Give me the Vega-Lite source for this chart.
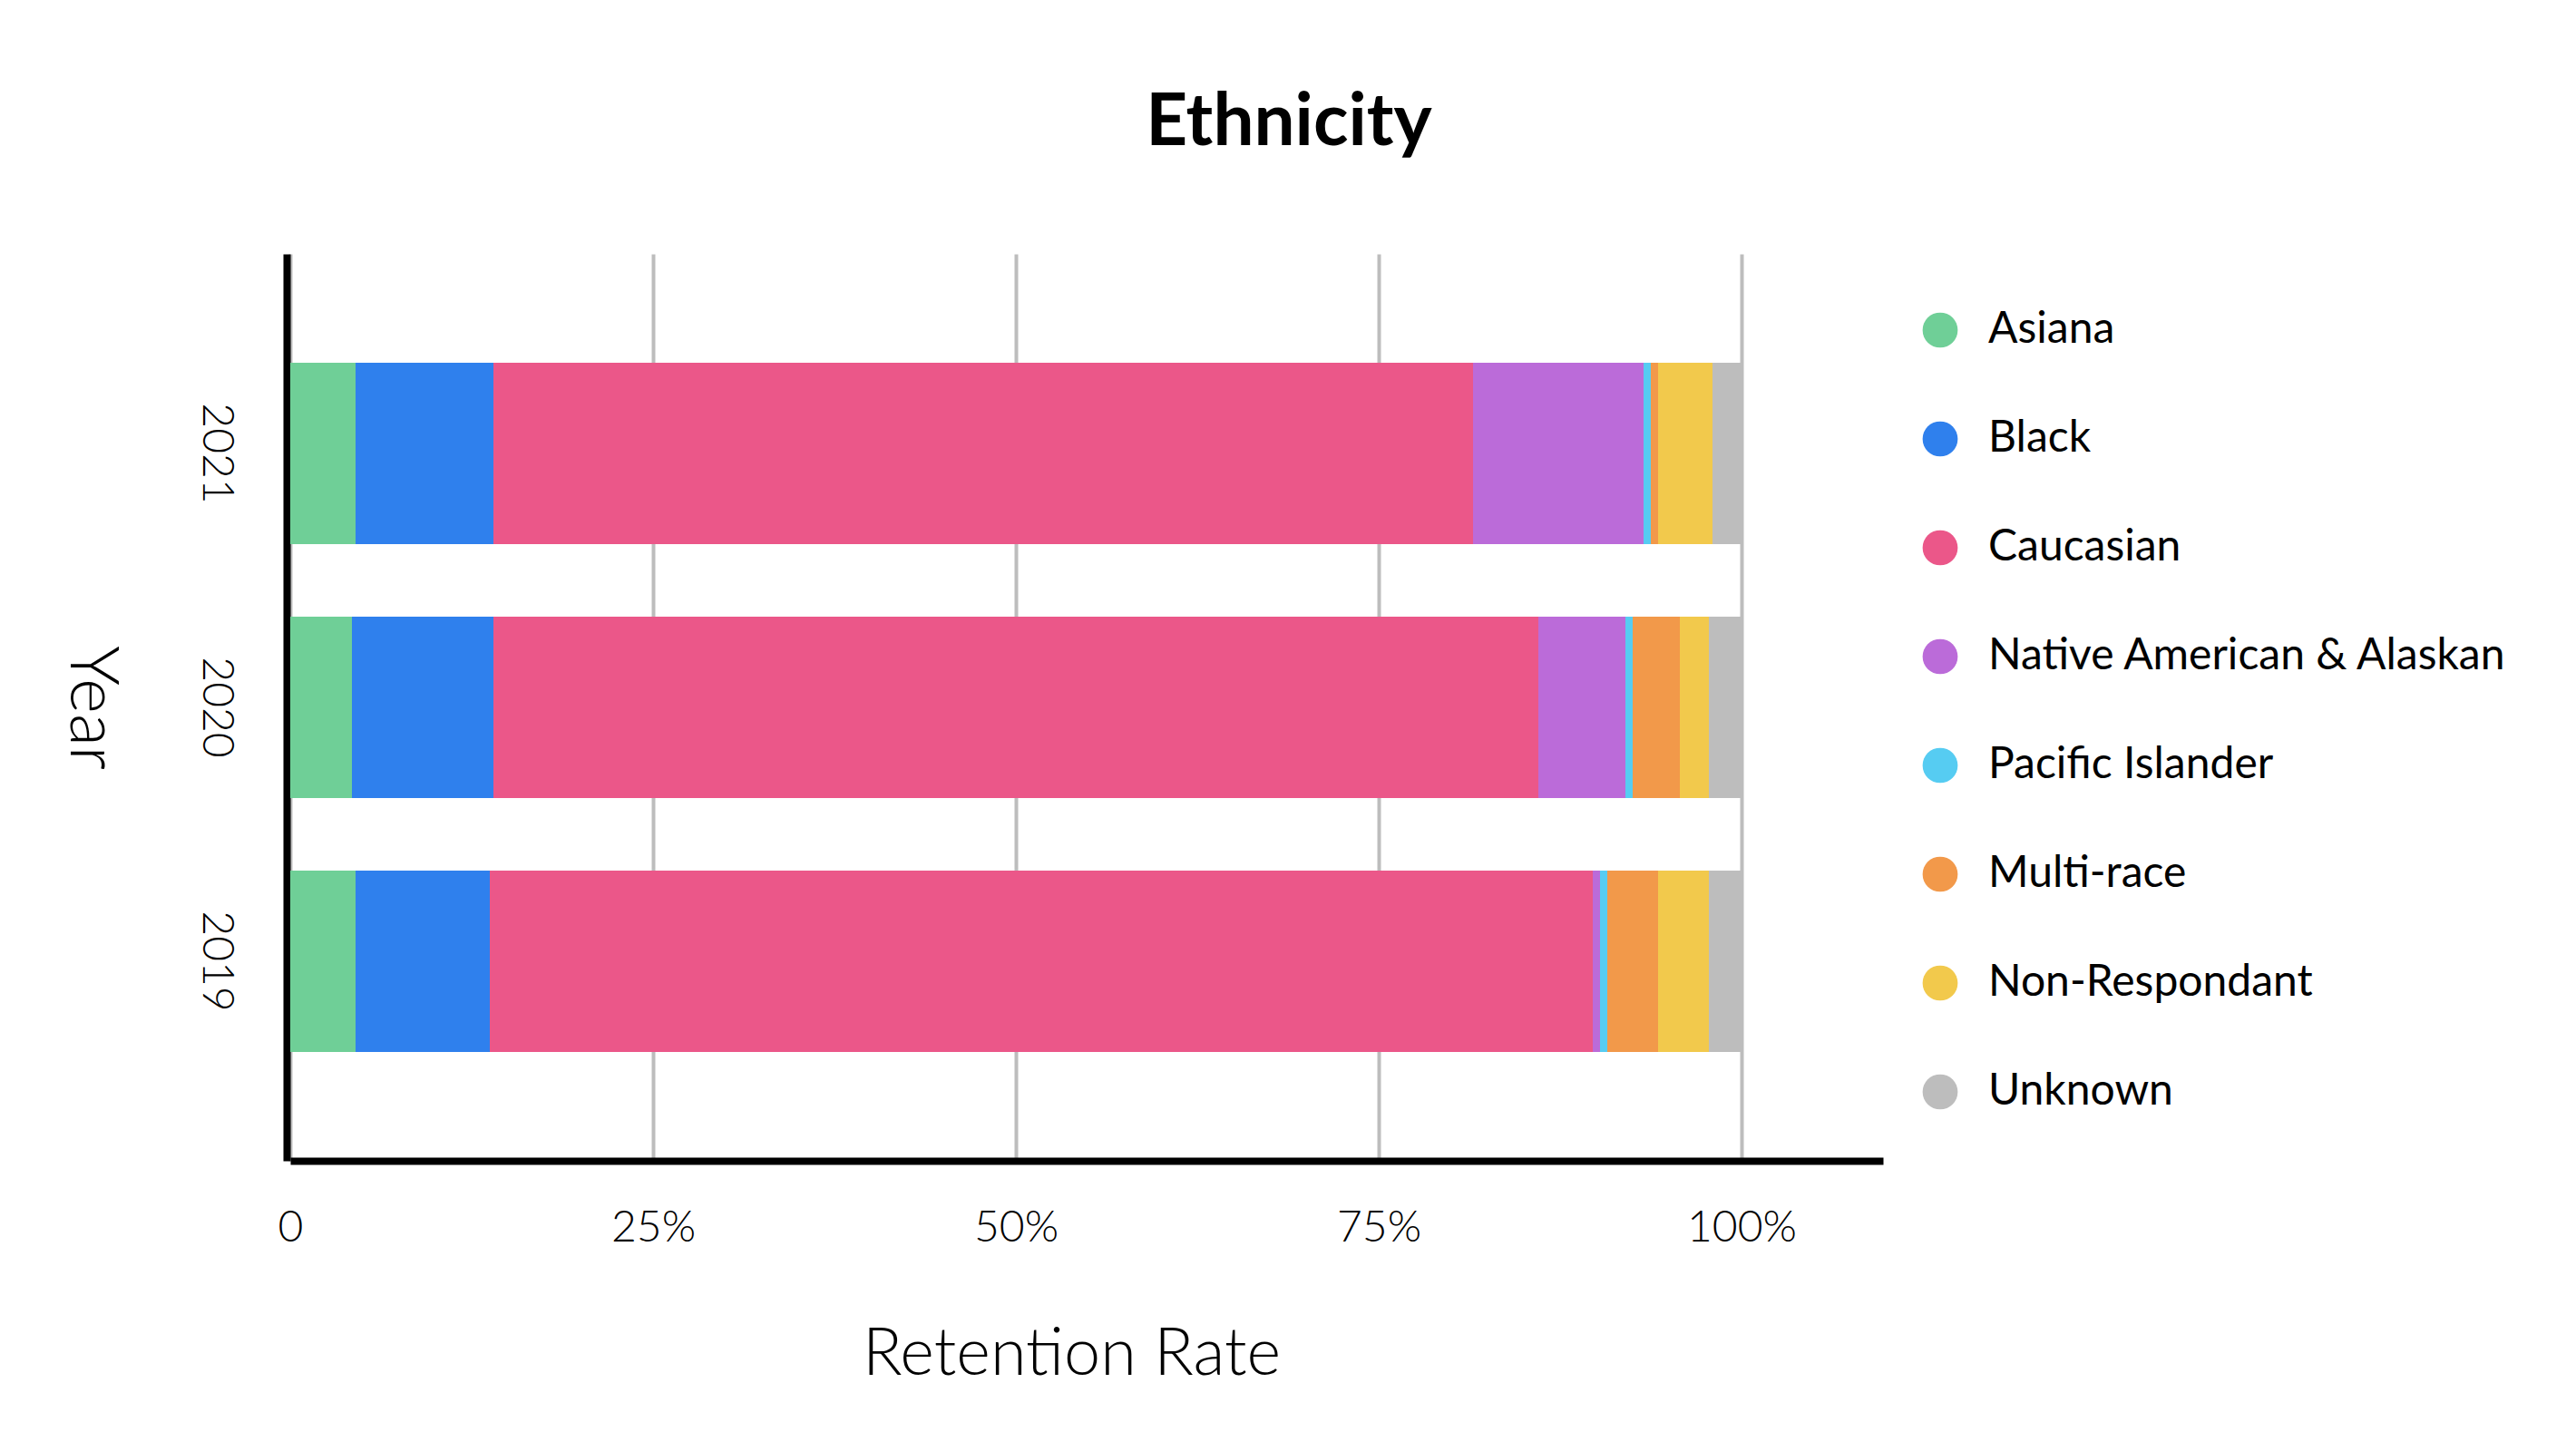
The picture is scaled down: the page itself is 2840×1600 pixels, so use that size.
{
  "$schema": "https://vega.github.io/schema/vega-lite/v6.json",
  "width": 1756,
  "height": 1000,
  "autosize": {"type": "none"},
  "padding": {"left": 320, "top": 280, "right": 764, "bottom": 320},
  "background": "white",
  "title": {
    "text": "Ethnicity",
    "font": "Lato",
    "fontSize": 80,
    "fontWeight": "bold",
    "color": "#000000",
    "anchor": "middle",
    "frame": "group",
    "dx": 223,
    "offset": 40,
    "baseline": "alphabetic"
  },
  "data": {
    "values": [
      {"year": "2021", "ethnicity": "Asiana", "rank": 1, "rate": 0.045},
      {"year": "2021", "ethnicity": "Black", "rank": 2, "rate": 0.095},
      {"year": "2021", "ethnicity": "Caucasian", "rank": 3, "rate": 0.675},
      {"year": "2021", "ethnicity": "Native American & Alaskan", "rank": 4, "rate": 0.1175},
      {"year": "2021", "ethnicity": "Pacific Islander", "rank": 5, "rate": 0.005},
      {"year": "2021", "ethnicity": "Multi-race", "rank": 6, "rate": 0.005},
      {"year": "2021", "ethnicity": "Non-Respondant", "rank": 7, "rate": 0.0375},
      {"year": "2021", "ethnicity": "Unknown", "rank": 8, "rate": 0.02},
      {"year": "2020", "ethnicity": "Asiana", "rank": 1, "rate": 0.0425},
      {"year": "2020", "ethnicity": "Black", "rank": 2, "rate": 0.0975},
      {"year": "2020", "ethnicity": "Caucasian", "rank": 3, "rate": 0.72},
      {"year": "2020", "ethnicity": "Native American & Alaskan", "rank": 4, "rate": 0.06},
      {"year": "2020", "ethnicity": "Pacific Islander", "rank": 5, "rate": 0.005},
      {"year": "2020", "ethnicity": "Multi-race", "rank": 6, "rate": 0.0325},
      {"year": "2020", "ethnicity": "Non-Respondant", "rank": 7, "rate": 0.02},
      {"year": "2020", "ethnicity": "Unknown", "rank": 8, "rate": 0.0225},
      {"year": "2019", "ethnicity": "Asiana", "rank": 1, "rate": 0.045},
      {"year": "2019", "ethnicity": "Black", "rank": 2, "rate": 0.0925},
      {"year": "2019", "ethnicity": "Caucasian", "rank": 3, "rate": 0.76},
      {"year": "2019", "ethnicity": "Native American & Alaskan", "rank": 4, "rate": 0.005},
      {"year": "2019", "ethnicity": "Pacific Islander", "rank": 5, "rate": 0.005},
      {"year": "2019", "ethnicity": "Multi-race", "rank": 6, "rate": 0.035},
      {"year": "2019", "ethnicity": "Non-Respondant", "rank": 7, "rate": 0.035},
      {"year": "2019", "ethnicity": "Unknown", "rank": 8, "rate": 0.0225}
    ]
  },
  "mark": {"type": "bar"},
  "encoding": {
    "y": {
      "field": "year",
      "type": "nominal",
      "sort": "descending",
      "scale": {"paddingInner": 0.2857, "paddingOuter": 0.4286},
      "axis": {
        "title": "Year",
        "titleAngle": 90,
        "titleFont": "Lato",
        "titleFontWeight": 300,
        "titleFontSize": 74,
        "titleColor": "#000000",
        "titlePadding": 152,
        "labelAngle": 90,
        "labelFont": "Lato",
        "labelFontSize": 48,
        "labelFontWeight": 300,
        "labelColor": "#000000",
        "labelPadding": 55,
        "ticks": false,
        "tickSize": 0,
        "domainColor": "#000000",
        "domainWidth": 8,
        "offset": 4,
        "grid": false
      }
    },
    "x": {
      "field": "rate",
      "type": "quantitative",
      "stack": "zero",
      "scale": {"domain": [0, 1.0975], "nice": false},
      "axis": {
        "title": "Retention Rate",
        "titleFont": "Lato",
        "titleFontWeight": 300,
        "titleFontSize": 72,
        "titleColor": "#000000",
        "titlePadding": 80,
        "titleX": 861,
        "values": [0, 0.25, 0.5, 0.75, 1],
        "labelExpr": "datum.value == 0 ? '0' : format(datum.value, '.0%')",
        "labelFlush": false,
        "labelFont": "Lato",
        "labelFontSize": 48,
        "labelFontWeight": 300,
        "labelColor": "#000000",
        "labelPadding": 50,
        "ticks": false,
        "tickSize": 0,
        "domainColor": "#000000",
        "domainWidth": 8,
        "grid": true,
        "gridColor": "#bdbdbd",
        "gridWidth": 4
      }
    },
    "color": {
      "field": "ethnicity",
      "type": "nominal",
      "scale": {
        "domain": ["Asiana", "Black", "Caucasian", "Native American & Alaskan", "Pacific Islander", "Multi-race", "Non-Respondant", "Unknown"],
        "range": ["#6fcf97", "#2f80ed", "#eb5789", "#bb6bd9", "#56ccf2", "#f2994a", "#f2c94c", "#bdbdbd"]
      },
      "legend": {
        "title": null,
        "orient": "none",
        "legendX": 1795,
        "legendY": 60,
        "padding": 0,
        "symbolType": "circle",
        "symbolSize": 1500,
        "symbolStrokeWidth": 0,
        "symbolOpacity": 1,
        "labelFont": "Lato",
        "labelFontSize": 48,
        "labelColor": "#000000",
        "labelOffset": 29,
        "rowPadding": 72,
        "labelLimit": 800
      }
    },
    "order": {"field": "rank", "type": "quantitative"}
  },
  "config": {"view": {"stroke": null}, "font": "Lato"}
}
